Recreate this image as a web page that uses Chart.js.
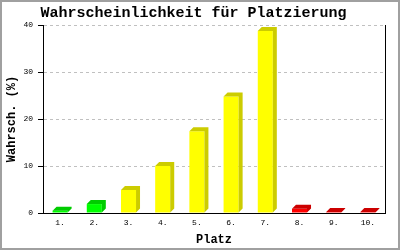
<!DOCTYPE html>
<html lang="de">
<head>
    <meta charset="UTF-8">
    <title>Wahrscheinlichkeit für Platzierung</title>
    <script src="https://cdn.jsdelivr.net/npm/chart.js@4.4.1/dist/chart.umd.min.js"></script>
    <style>
        body { margin: 0; background: #fff; }
        #frame { width: 400px; height: 250px; box-sizing: border-box; border: 2px solid #a0a0a0; }
        canvas { display: block; }
    </style>
</head>
<body>
    <div id="frame">
        <canvas id="chart" width="396" height="246"></canvas>
    </div>

    <script>
        // Data
        const places = ['1.', '2.', '3.', '4.', '5.', '6.', '7.', '8.', '9.', '10.'];
        const probability = [0.5, 1.9, 4.9, 10.0, 17.4, 24.8, 38.7, 0.9, 0.2, 0.2];
        const yTicks = [0, 10, 20, 30, 40];

        // green = top places, yellow = middle, red = bottom
        const front = { g: '#00ff00', y: '#ffff00', r: '#ff0000' };
        const shade = { g: '#00cc00', y: '#cccc00', r: '#cc0000' };
        const zoneOf = i => (i < 2 ? 'g' : i < 7 ? 'y' : 'r');

        const mono = 'Liberation Mono, DejaVu Sans Mono, monospace';

        // draws the top and right faces so the bars look 3D
        const depthPlugin = {
            id: 'depth',
            afterDatasetsDraw(chart) {
                const ctx = chart.ctx;
                const d = 4;
                chart.getDatasetMeta(0).data.forEach((bar, i) => {
                    const { x, y, base, width } = bar.getProps(['x', 'y', 'base', 'width'], true);
                    const l = x - width / 2, r = x + width / 2;
                    ctx.save();
                    ctx.fillStyle = shade[zoneOf(i)];
                    ctx.beginPath();
                    ctx.moveTo(l, y);
                    ctx.lineTo(l + d, y - d);
                    ctx.lineTo(r + d, y - d);
                    ctx.lineTo(r + d, base - d);
                    ctx.lineTo(r, base);
                    ctx.lineTo(r, y);
                    ctx.closePath();
                    ctx.fill();
                    ctx.restore();
                });
            }
        };

        new Chart(document.getElementById('chart'), {
            type: 'bar',
            data: {
                labels: places,
                datasets: [{
                    data: probability,
                    backgroundColor: probability.map((v, i) => front[zoneOf(i)]),
                    borderWidth: 0,
                    barPercentage: 0.44,
                    categoryPercentage: 1
                }]
            },
            options: {
                responsive: false,
                animation: false,
                layout: { padding: { left: 0, right: 13, top: 0, bottom: 0 } },
                plugins: {
                    legend: { display: false },
                    tooltip: { enabled: false },
                    title: {
                        display: true,
                        text: 'Wahrscheinlichkeit für Platzierung',
                        color: '#000',
                        font: { family: mono, size: 15, weight: 'bold' },
                        padding: { top: 2, bottom: 3 }
                    }
                },
                scales: {
                    x: {
                        grid: { drawOnChartArea: false, drawTicks: false },
                        border: { color: '#000', width: 1 },
                        ticks: { color: '#000', font: { family: mono, size: 8 }, padding: 5, maxRotation: 0 },
                        title: {
                            display: true,
                            text: 'Platz',
                            color: '#000',
                            font: { family: mono, size: 12, weight: 'bold' },
                            padding: { top: 0, bottom: 1 }
                        },
                        afterFit: s => { s.height = 35; }
                    },
                    y: {
                        min: yTicks[0],
                        max: yTicks[yTicks.length - 1],
                        afterBuildTicks: s => { s.ticks = yTicks.map(v => ({ value: v })); },
                        grid: { color: '#c0c0c0', tickColor: '#000', tickLength: 5 },
                        border: { color: '#000', width: 1, dash: [3, 3] },
                        ticks: { color: '#000', font: { family: mono, size: 8 }, padding: 5 },
                        title: {
                            display: true,
                            text: 'Wahrsch. (%)',
                            color: '#000',
                            font: { family: mono, size: 12, weight: 'bold' },
                            padding: { top: 3, bottom: 3 }
                        },
                        afterFit: s => { s.width = 41; }
                    },
                    y2: {
                        position: 'right',
                        min: yTicks[0],
                        max: yTicks[yTicks.length - 1],
                        grid: { drawOnChartArea: false, drawTicks: false },
                        border: { color: '#000', width: 1 },
                        ticks: { display: false },
                        afterFit: s => { s.width = 0; }
                    }
                }
            },
            plugins: [depthPlugin]
        });
    </script>
</body>
</html>
